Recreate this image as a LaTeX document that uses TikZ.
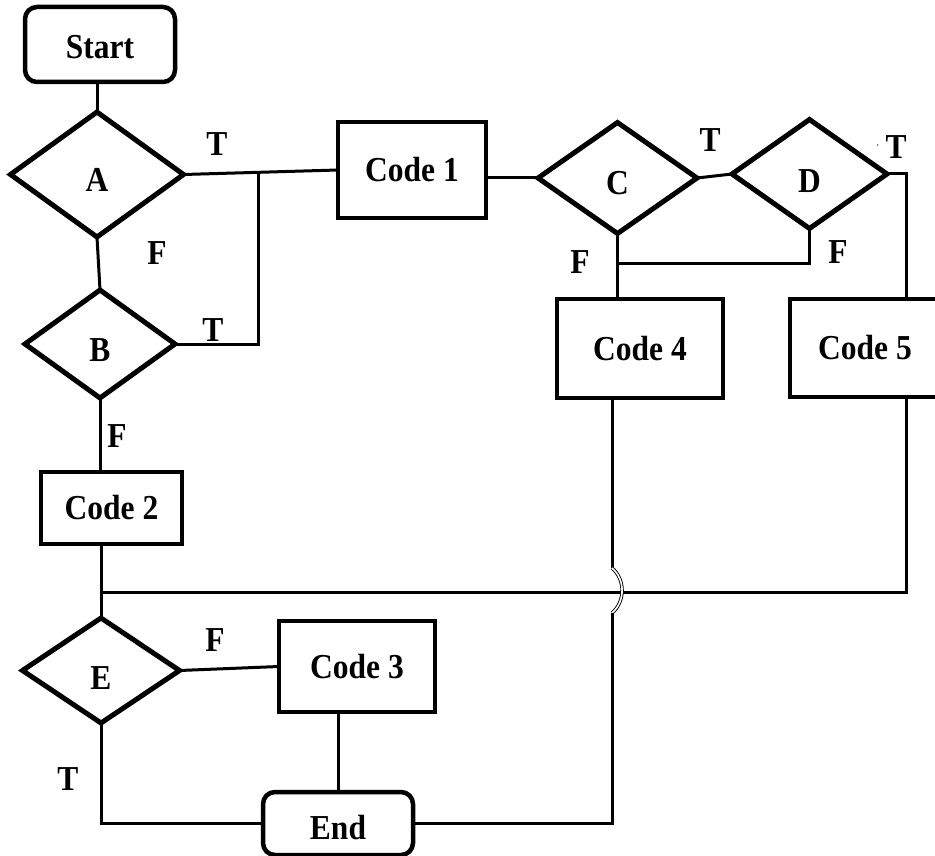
\documentclass[tikz,border=0pt]{standalone}
\usepackage{fontspec}
\setmainfont[FakeStretch=0.9]{Liberation Serif}
\usetikzlibrary{shapes.geometric}
\begin{document}
\begin{tikzpicture}[x=1pt,y=-1pt,
  every node/.style={font=\fontsize{35}{40}\selectfont\bfseries, inner sep=0pt, outer sep=0pt},
  term/.style={draw, rounded corners=12pt, line width=4.5pt},
  proc/.style={draw, line width=4pt},
  cond/.style={draw, diamond, line width=5pt, text height=34pt, text depth=0pt},
  link/.style={line width=3pt},
  lbl/.style={}]
\useasboundingbox (0,0) rectangle (935,856);

% terminals
\node[term, minimum width=150pt, minimum height=75pt, text height=28pt, text depth=0pt] (start) at (100,44.5) {Start};
\node[term, minimum width=150pt, minimum height=63pt, text height=31pt, text depth=0pt] (end) at (338,823.5) {End};

% decisions
\node[cond, minimum width=173pt, minimum height=125pt] (A) at (97,174.5) {A};
\node[cond, minimum width=150pt, minimum height=108pt] (B) at (100,344) {B};
\node[cond, minimum width=159pt, minimum height=111pt] (C) at (617.5,178) {C};
\node[cond, minimum width=155pt, minimum height=109pt, text height=38pt] (D) at (809.5,174) {D};
\node[cond, minimum width=157pt, minimum height=105pt, text height=38pt] (E) at (101,670.5) {E};

% process boxes
\node[proc, minimum width=148pt, minimum height=96pt] (code1) at (412,170) {Code 1};
\node[proc, minimum width=141pt, minimum height=72pt] (code2) at (111.5,508) {Code 2};
\node[proc, minimum width=156pt, minimum height=91pt] (code3) at (357,666.5) {Code 3};
\node[proc, minimum width=166pt, minimum height=99pt] (code4) at (640,348.5) {Code 4};
\node[proc, minimum width=150pt, minimum height=98pt] (code5) at (865,348) {Code 5};

% branch labels
\node[lbl] (tA) at (217,144) {T};
\node[lbl] (fA) at (157,253) {F};
\node[lbl] (tB) at (213,330) {T};
\node[lbl] (fB) at (117,436) {F};
\node[lbl] (tC) at (710,140) {T};
\node[lbl] (fC) at (580,262) {F};
\node[lbl] (tD) at (896,147) {T};
\node[font=\fontsize{3}{4}\selectfont\bfseries] (fDs) at (878,146) {F};
\node[lbl] (fD) at (838,252) {F};
\node[lbl] (fE) at (215,640) {F};
\node[lbl] (tE) at (68,779) {T};

% junction points
\coordinate (j1) at (258,172.5);
\coordinate (d5) at (906,174);
\coordinate (cf) at (617.5,263);
\coordinate (m) at (100,592);
\coordinate (h1) at (612,568);
\coordinate (h2) at (612,613);

% connectors
\draw[link] (A.north) -- (A.north |- start.south);
\draw[link] (A.east) -- (code1.west);
\draw[link] (B.east) -| (j1);
\draw[link] (A.south) -- (B.north);
\draw[link] (C.west) -- (C.west -| code1.east);
\draw[link] (C.east) -- (D.west);
\draw[link] (D.east) -- (d5) -- (d5 |- code5.north);
\draw[link] (D.south) |- (cf);
\draw[link] (C.south) -- (C.south |- code4.north);
\draw[link] (B.south) -- (B.south |- code2.north);
\draw[link] (code5.south -| d5) |- (m);
\draw[link] (E.north) -- (E.north |- code2.south);
\draw[link] (E.east) -- (code3.west);
\draw[link] (end.north) -- (end.north |- code3.south);
\draw[link] (E.south) |- (end.west);
\draw[link] (code4.south -| h1) -- (h1);
\draw[double, double distance=1.6pt, line width=0.9pt] (h1) to[bend left=50] (h2);
\draw[link] (h2) |- (end.east);
\end{tikzpicture}
\end{document}
